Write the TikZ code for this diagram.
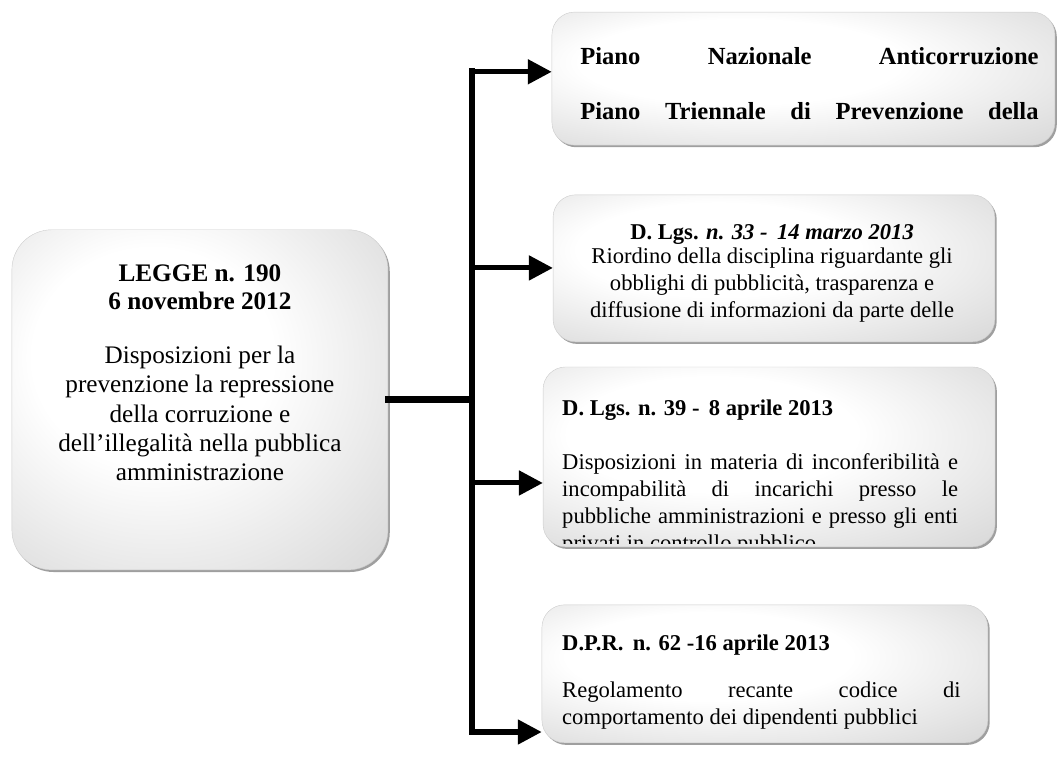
\documentclass[tikz,border=0pt]{standalone}
\usepackage{fontspec}
\setmainfont{Liberation Serif}
\usetikzlibrary{arrows.meta,shadows,calc}
\pgfdeclareradialshading{boxglow}{\pgfpoint{-8bp}{8bp}}{color(0bp)=(white); color(16bp)=(white); color(48bp)=(black!20); color(75bp)=(black!34)}
\tikzset{
    % Main law box
    leggebox/.style={
        rectangle, shading=boxglow, draw=black!20, line width=0.3pt,
        minimum width=9.95cm, minimum height=9cm,
        rounded corners=30pt,
        drop shadow={shadow xshift=1.4pt, shadow yshift=-1.6pt, fill=black!75}
    },
    % Decree boxes
    actbox/.style={
        rectangle, shading=boxglow, draw=black!20, line width=0.3pt,
        rounded corners=17pt,
        drop shadow={shadow xshift=1.4pt, shadow yshift=-1.6pt, fill=black!75}
    },
    % Connector styles
    trunkline/.style={line width=5.2pt, line cap=rect},
    branch/.style={line width=3.8pt, -{Triangle[length=18pt,width=18pt]}},
    % Text styles
    bigtitle/.style={inner sep=0pt, align=center, font=\fontsize{19}{21}\selectfont\bfseries},
    bigbody/.style={inner sep=0pt, align=center, font=\fontsize{19}{22}\selectfont},
    acttitle/.style={inner sep=0pt, font=\fontsize{17}{19}\selectfont\bfseries},
    actbody/.style={inner sep=0pt, font=\fontsize{17}{20.5}\selectfont}
}
\begin{document}
\begin{tikzpicture}
\useasboundingbox (0,0) rectangle (27.97,-20.03);

% Boxes
\node[leggebox] (legge) at (5.29,-10.58) {};
\node[actbox, minimum width=13.31cm, minimum height=3.52cm] (pna) at (21.26,-2.08) {};
\node[actbox, minimum width=11.69cm, minimum height=3.89cm] (dlgs33) at (20.48,-7.10) {};
\node[actbox, minimum width=11.96cm, minimum height=4.76cm] (dlgs39) at (20.35,-12.09) {};
\node[actbox, minimum width=11.80cm, minimum height=3.65cm] (dpr62) at (20.24,-17.83) {};

% Legge 190 text
\node[bigtitle, anchor=north] (leggetitle) at (5.29,-7.01) {LEGGE n. 190\\6 novembre 2012};
\node[bigbody, anchor=north] (leggebody) at (5.29,-9.15) {Disposizioni per la\\prevenzione la repressione\\della corruzione e\\dell'illegalità nella pubblica\\amministrazione};

% Piano nazionale text
\node[inner sep=0pt, anchor=north west, text width=345pt, align=justify,
      font=\fontsize{18.5}{42}\selectfont\bfseries] (pnatext) at (15.35,-1.24)
      {\parfillskip=0pt Piano Nazionale Anticorruzione\linebreak Piano Triennale di Prevenzione della\par};

% D. Lgs. 33 text
\node[acttitle, anchor=north] (t33) at (20.43,-5.92) {D. Lgs. \textit{n. 33 -\, 14 marzo 2013}};
\node[actbody, anchor=north, align=center] (b33) at (20.43,-6.55)
      {Riordino della disciplina riguardante gli\\obblighi di pubblicità, trasparenza e\\diffusione di informazioni da parte delle};

% D. Lgs. 39 text
\node[acttitle, anchor=north west] (t39) at (14.87,-10.58) {D. Lgs. n. 39 -\, 8 aprile 2013};
\begin{scope}
\clip (dlgs39.north west) rectangle ($(dlgs39.south east)+(0,0.1)$);
\node[actbody, anchor=north west, text width=298pt, align=justify, font=\fontsize{17}{20.3}\selectfont] (b39) at (14.87,-12.00)
      {Disposizioni in materia di inconferibilità e\linebreak incompabilità di incarichi presso le\linebreak pubbliche amministrazioni e presso gli enti\linebreak privati in controllo pubblico};
\end{scope}

% D.P.R. 62 text
\node[acttitle, anchor=north west] (t62) at (14.87,-16.80) {D.P.R.\, n. 62 -16 aprile 2013};
\node[actbody, anchor=north west, text width=300pt, align=justify] (b62) at (14.87,-18.03)
      {Regolamento recante codice di\linebreak comportamento dei dipendenti pubblici};

% Connectors
\coordinate (t1) at (12.49,-1.90);
\coordinate (t2) at (12.49,-7.09);
\coordinate (t3) at (12.49,-12.78);
\coordinate (t4) at (12.49,-19.37);
\draw[trunkline] (legge.east) -- (legge.east -| t1);
\draw[trunkline] (t1) -- (t4);
\draw[branch] (t1) -- (t1 -| pna.west);
\draw[branch] (t2) -- (t2 -| dlgs33.west);
\draw[branch] (t3) -- (t3 -| dlgs39.west);
\draw[branch] (t4) -- (t4 -| dpr62.west);

\end{tikzpicture}
\end{document}
